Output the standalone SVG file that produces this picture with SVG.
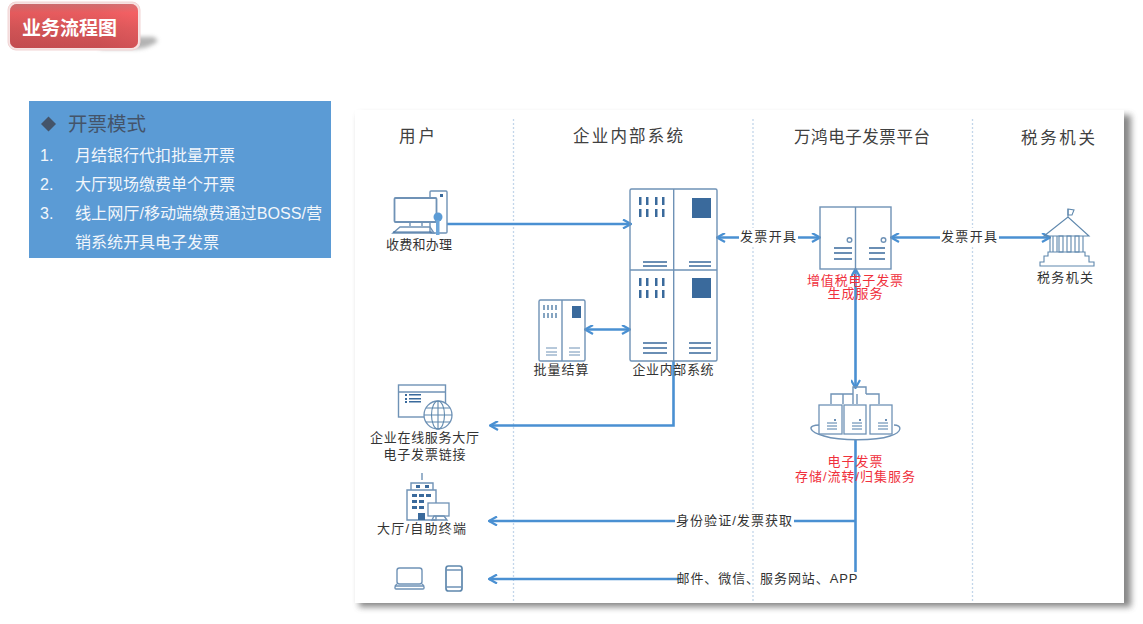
<svg xmlns="http://www.w3.org/2000/svg" width="1143" height="624" viewBox="0 0 1143 624">
<style>
text{font-family:"Liberation Sans","Noto Sans CJK SC",sans-serif;}
.h{font-size:16.500px;fill:#404040}
.l{font-size:13px;fill:#333;text-anchor:middle}
.r{font-size:13px;fill:#f0303c;text-anchor:middle}
.w{font-size:16px;fill:#f2f6fb}
.c{fill:none;stroke:#4a90d2;stroke-width:2.600}
.ic{fill:none;stroke:#6f92b6;stroke-width:1.400}
.thin{fill:none;stroke:#5f88ad;stroke-width:1.100}
.d{fill:#3a6a9c}
.sep{stroke:#c3d6ea;stroke-width:1.300;stroke-dasharray:2 2}
.ln{stroke:#3a6a9c;stroke-width:1.300}
.bg{fill:#fff}
</style>
<defs>
<linearGradient id="btn" x1="0" y1="0" x2="0" y2="1"><stop offset="0" stop-color="#c9787a"/><stop offset=".2" stop-color="#f25f62"/><stop offset=".55" stop-color="#d65658"/><stop offset="1" stop-color="#c04a4e"/></linearGradient>
<linearGradient id="btn2" x1="0" y1="0" x2="1" y2="0"><stop offset="0" stop-color="#c44e50"/><stop offset=".7" stop-color="#d85558"/><stop offset="1" stop-color="#fb6468"/></linearGradient>
<filter id="bl" x="-20%" y="-20%" width="140%" height="140%"><feGaussianBlur stdDeviation="3"/></filter>
<filter id="bs" x="-30%" y="-100%" width="160%" height="300%"><feGaussianBlur stdDeviation="2"/></filter>
<marker id="a" viewBox="0 0 10 10" refX="9" refY="5" markerWidth="10" markerHeight="10" markerUnits="userSpaceOnUse" orient="auto-start-reverse"><path d="M1 0.5L9 5L1 9.500" fill="none" stroke="#4a90d2" stroke-width="2.200"/></marker>
</defs>
<rect width="1143" height="624" fill="#fff"/>
<g id="title">
<path d="M100 37H154L158 41Q150 48 135 49H100Z" fill="#9a9a9a" opacity=".75" filter="url(#bs)"/>
<rect x="8" y="2" width="132" height="48" rx="8" fill="#f6e3e3" stroke="#f2d4d4"/>
<rect x="10" y="4" width="128" height="44" rx="7" fill="url(#btn2)"/>
<rect x="10" y="4" width="128" height="44" rx="7" fill="url(#btn)" opacity=".7"/>
<text x="22" y="35" font-size="19" font-weight="bold" fill="#fff">业务流程图</text>
</g>
<g id="mode-list">
<rect x="29" y="101" width="302" height="157" fill="#5b9bd5"/>
<path d="M48.500 116.500L56 124L48.500 131.500L41 124Z" fill="#44546a"/>
<text x="68" y="131" font-size="19.500" fill="#44546a">开票模式</text>
<text class="w" x="40" y="161">1.</text><text class="w" x="75" y="161">月结银行代扣批量开票</text>
<text class="w" x="40" y="190">2.</text><text class="w" x="75" y="190">大厅现场缴费单个开票</text>
<text class="w" x="40" y="219">3.</text><text class="w" x="75" y="219" textLength="247" lengthAdjust="spacingAndGlyphs">线上网厅/移动端缴费通过BOSS/营</text>
<text class="w" x="75" y="248">销系统开具电子发票</text>
</g>
<g id="panel">
<rect x="359" y="115" width="772" height="492" fill="#555" opacity=".7" filter="url(#bl)"/>
<rect x="355" y="110" width="769" height="493" fill="#fff"/>
<line class="sep" x1="513.500" y1="119" x2="513.500" y2="603"/>
<line class="sep" x1="753" y1="119" x2="753" y2="603"/>
<line class="sep" x1="972.500" y1="119" x2="972.500" y2="603"/>
<text class="h" x="399" y="142" textLength="36">用户</text>
<text class="h" x="573" y="142" textLength="110">企业内部系统</text>
<text class="h" x="794" y="143" textLength="136">万鸿电子发票平台</text>
<text class="h" x="1021" y="144" textLength="74">税务机关</text>
</g>
<g id="connectors">
<path class="c" d="M447 224H631" marker-end="url(#a)"/>
<path class="c" d="M585 329.500H630" marker-start="url(#a)" marker-end="url(#a)"/>
<path class="c" d="M673.500 361V425.500H490" marker-end="url(#a)"/>
<path class="c" d="M717 237.500H820" marker-start="url(#a)" marker-end="url(#a)"/>
<path class="c" d="M891 237.500H1050" marker-start="url(#a)" marker-end="url(#a)"/>
<path class="c" d="M855.500 269V388" marker-start="url(#a)" marker-end="url(#a)"/>
<path class="c" d="M855.500 440V572"/>
<path class="c" d="M855.500 521H489" marker-end="url(#a)"/>
<path class="c" d="M680 579H489" marker-end="url(#a)"/>
<rect class="bg" x="739" y="228" width="59" height="18"/>
<text class="l" x="768" y="241" textLength="56">发票开具</text>
<rect class="bg" x="940" y="228" width="59" height="18"/>
<text class="l" x="969" y="241" textLength="56">发票开具</text>
<rect class="bg" x="675" y="512" width="119" height="18"/>
<text class="l" x="734" y="525" textLength="116">身份验证/发票获取</text>
<text class="l" x="767" y="583" textLength="181">邮件、微信、服务网站、APP</text>
</g>
<g id="node-pc">
<rect class="ic" x="430" y="191" width="17" height="42" rx="1" fill="#fff"/>
<rect class="d" x="440" y="194" width="3" height="3"/>
<rect x="394.500" y="198" width="42" height="24" rx="1" fill="#fff" stroke="#6f92b6" stroke-width="1.800"/>
<path class="ic" d="M410 222V226M422 222V226M400 227H430L434 233H393Z"/>
<path d="M393 232H432" stroke="#3a6a9c" stroke-width="1"/>
<circle cx="438" cy="217" r="4.500" fill="#5b9bd5"/>
<rect x="436" y="220" width="3.500" height="15" fill="#6ea6d8"/>
<text class="l" x="419" y="249" textLength="66">收费和办理</text>
</g>
<g id="node-internal">
<rect class="ic" x="630" y="189" width="87" height="172" rx="1.500" fill="#fff"/>
<path class="ic" d="M673.700 189V361M630 270H717"/>
<g class="d"><rect x="639" y="197" width="2.500" height="8"/><rect x="646" y="197" width="2.500" height="8"/><rect x="655" y="197" width="2.500" height="8"/><rect x="662" y="197" width="2.500" height="8"/><rect x="639" y="209" width="2.500" height="8"/><rect x="646" y="209" width="2.500" height="8"/><rect x="655" y="209" width="2.500" height="8"/><rect x="662" y="209" width="2.500" height="8"/>
<rect x="639" y="278" width="2.500" height="8"/><rect x="646" y="278" width="2.500" height="8"/><rect x="655" y="278" width="2.500" height="8"/><rect x="662" y="278" width="2.500" height="8"/><rect x="639" y="290" width="2.500" height="8"/><rect x="646" y="290" width="2.500" height="8"/><rect x="655" y="290" width="2.500" height="8"/><rect x="662" y="290" width="2.500" height="8"/>
<rect x="692" y="198" width="19" height="20"/><rect x="692" y="278" width="19" height="20"/></g>
<path class="ln" d="M643 262H667M643 266H667M689 262H711M689 266H711"/>
<path class="ln" stroke-width="1.600" d="M643 343H667M643 348H667M643 353H667M689 343H711M689 348H711M689 353H711"/>
<text class="l" x="673" y="374" textLength="81">企业内部系统</text>
</g>
<g id="node-batch">
<rect class="ic" x="539" y="300" width="46" height="61" rx="1.500" fill="#fff"/>
<path class="ic" d="M562 300V361"/>
<path d="M544 305v5M548 305v5M552 305v5M556 305v5M544 313v5M548 313v5M552 313v5M556 313v5" stroke="#5d86ad" stroke-width="1.500"/>
<rect class="d" x="572" y="306" width="9" height="12"/>
<path d="M546 348H557M546 352H557M546 355H557M569 348H580M569 352H580M569 355H580" stroke="#6f92b6" stroke-width="1"/>
<text class="l" x="561" y="374" textLength="55">批量结算</text>
</g>
<g id="node-invoice">
<rect class="ic" x="820" y="207" width="71" height="62" fill="#fff"/>
<path class="ic" d="M855.500 207V269"/>
<circle class="ic" cx="849.500" cy="240" r="2.300"/><circle class="ic" cx="883.500" cy="240" r="2.300"/>
<path class="ln" d="M834 248H852M834 253H852M834 259H852M869 248H885M869 253H885M869 259H885"/>
<text class="r" x="855" y="285" textLength="96">增值税电子发票</text>
<text class="r" x="855" y="298" textLength="55">生成服务</text>
</g>
<g id="node-tax">
<path class="thin" d="M1044 236L1068 217L1089 236ZM1068 217V209"/>
<path class="thin" d="M1068 209L1074 210L1072 215L1068 215Z"/>
<path class="thin" d="M1050 236V252M1053 236V252M1057 236V252M1059 252V236H1063V252ZM1067 252V236H1071V252ZM1075 252V236H1079V252ZM1083 236V252"/>
<path class="thin" d="M1048 252V256H1044V262H1040V266H1094V262H1089V256H1085V252Z"/>
<text class="l" x="1065" y="282" textLength="56">税务机关</text>
</g>
<g id="node-storage">
<path class="ic" d="M820 425C806 425 809 432 824 436C840 441 875 441 890 436C903 432 902 425 894 425"/>
<path class="ic" d="M831 404V394H853M853 394V387H866V394M866 394H879V404M853 394V404M857 394V404M843 394V404"/>
<g fill="#fff" stroke="#6f92b6" stroke-width="1.300"><rect x="819" y="405" width="23" height="29"/><rect x="844" y="405" width="22" height="29"/><rect x="870" y="405" width="22" height="29"/></g>
<path d="M827 423H837M827 426H837M827 429H837M852 423H862M852 426H862M852 429H862M878 423H888M878 426H888M878 429H888" stroke="#4f7ca8" stroke-width="1"/>
<circle class="d" cx="835" cy="420" r="1"/><circle class="d" cx="860" cy="420" r="1"/><circle class="d" cx="886" cy="420" r="1"/>
<text class="r" x="855" y="466" textLength="55">电子发票</text>
<text class="r" x="855" y="481" textLength="120">存储/流转/归集服务</text>
</g>
<g id="node-online">
<rect class="ic" x="398.500" y="385" width="47" height="32"/>
<path class="ic" d="M398.500 392H445"/>
<path class="d" d="M405 394h2v2h-2zM405 398h2v2h-2zM405 401h2v2h-2zM409 394h12v1.500h-12zM409 398h12v1.500h-12zM409 401h12v1.500h-12z"/>
<circle cx="438" cy="415" r="14" fill="#fff" stroke="#6f92b6" stroke-width="1.300"/>
<ellipse class="thin" cx="438" cy="415" rx="6.500" ry="14"/>
<path class="thin" d="M438 401V429M424 415H452M426 408H450M426 422H450"/>
<text class="l" x="424.500" y="442" textLength="109">企业在线服务大厅</text>
<text class="l" x="424.500" y="459" textLength="82">电子发票链接</text>
</g>
<g id="node-hall">
<path class="ic" d="M422 473V480M411 490V483H433V490M407 520V490H436V520Z"/>
<path class="d" d="M416 485h4v3h-4zM425 485h4v3h-4zM412 494h5v3h-5zM419 494h5v3h-5zM426 494h5v3h-5zM412 500h5v3h-5zM419 500h5v3h-5zM412 506h5v3h-5zM419 506h5v3h-5zM418 513h7v7h-7z"/>
<rect x="428" y="503" width="21" height="13" fill="#fff" stroke="#6f92b6" stroke-width="1.300"/>
<path class="ic" d="M432 520L434 516H444L447 520Z"/>
<text class="l" x="421.500" y="533" textLength="89">大厅/自助终端</text>
</g>
<g id="node-devices">
<rect class="ic" x="397" y="568" width="25" height="16" rx="2.500"/>
<rect class="ic" x="395" y="586" width="29" height="3" rx="1"/>
<path class="ic" d="M397 584L395 586M422 584L424 586"/>
<rect x="446" y="566" width="16" height="25" rx="2.500" fill="none" stroke="#5f88ad" stroke-width="1.700"/>
<path class="ic" d="M446 570H462M446 587H462"/>
</g>
</svg>
